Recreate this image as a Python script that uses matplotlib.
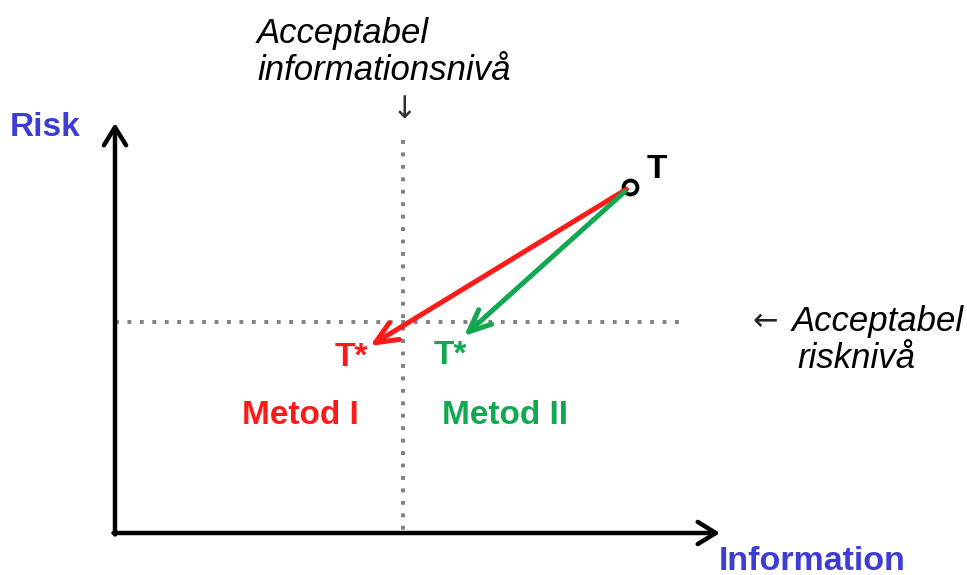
import matplotlib.pyplot as plt

# diagram coordinates (pixel-like units, y grows downward)
origin = (115, 533)
x_axis_end = 720
y_axis_end = 123
info_level = 403
risk_level = 322
dot_top = 140
dot_right = 685

T = (630, 187)
red_end = (370, 346)
green_end = (464, 336)

labels = ["T", "T*", "T*", "Metod I", "Metod II"]
label_x = [657, 351, 450, 300, 505]
label_y = [170, 358, 355, 415, 415]
label_col = ["black", "#ff1a1a", "#10a850", "#ff1a1a", "#10a850"]

red = "#ff1a1a"
green = "#10a850"
blue = "#3d3dd6"

plt.rcParams['font.family'] = ['Liberation Sans', 'DejaVu Sans']

fig = plt.figure(figsize=(9.67, 5.75), dpi=100)
ax = fig.add_axes([0, 0, 1, 1])
ax.set_xlim(0, 967)
ax.set_ylim(575, 0)
ax.axis('off')

# dotted reference levels
ax.plot([info_level, info_level], [dot_top, origin[1]], color="#808080",
        lw=2.8, linestyle=(0, (1, 2.2)), dash_capstyle='butt')
ax.plot([origin[0], dot_right], [risk_level, risk_level], color="#808080",
        lw=2.8, linestyle=(0, (1, 2.2)), dash_capstyle='butt')

# axes
axis_head = "->,head_length=1.3,head_width=0.8"
ax.annotate("", xy=(origin[0], y_axis_end), xytext=(origin[0], origin[1] + 1.5),
            arrowprops=dict(arrowstyle=axis_head, lw=3.2, color="black",
                            shrinkA=0, shrinkB=0))
ax.annotate("", xy=(x_axis_end, origin[1]), xytext=(origin[0] - 1.5, origin[1]),
            arrowprops=dict(arrowstyle=axis_head, lw=3.2, color="black",
                            shrinkA=0, shrinkB=0))

# method arrows
method_head = "->,head_length=1.6,head_width=0.7"
ax.annotate("", xy=red_end, xytext=T,
            arrowprops=dict(arrowstyle=method_head, lw=3.6, color=red,
                            shrinkA=3, shrinkB=0))
ax.annotate("", xy=green_end, xytext=T,
            arrowprops=dict(arrowstyle=method_head, lw=3.6, color=green,
                            shrinkA=5, shrinkB=0))

ax.plot(T[0], T[1], 'o', ms=10, mfc='white', mec='black', mew=2.8)

for s, x, y, c in zip(labels, label_x, label_y, label_col):
    ax.text(x, y, s, color=c, fontsize=24, fontweight='bold', ha='center', va='center')

ax.text(45, 127, "Risk", color=blue, fontsize=24, fontweight='bold', ha='center', va='center')
ax.text(812, 561, "Information", color=blue, fontsize=24.5, fontweight='bold',
        ha='center', va='center')

ax.text(257, 52, "Acceptabel\ninformationsnivå", fontsize=25, style='italic',
        ha='left', va='center', linespacing=1.12)
ax.text(405, 109, "↓", fontsize=22, ha='center', va='center', family='DejaVu Sans',
        color="#333333")
ax.text(765, 322, "←", fontsize=22, ha='center', va='center', family='DejaVu Sans',
        color="#222222")
ax.text(792, 322, "Acceptabel", fontsize=25, style='italic', ha='left', va='center')
ax.text(797, 359, "risknivå", fontsize=25, style='italic', ha='left', va='center')

fig.savefig("out.png", dpi=100)
